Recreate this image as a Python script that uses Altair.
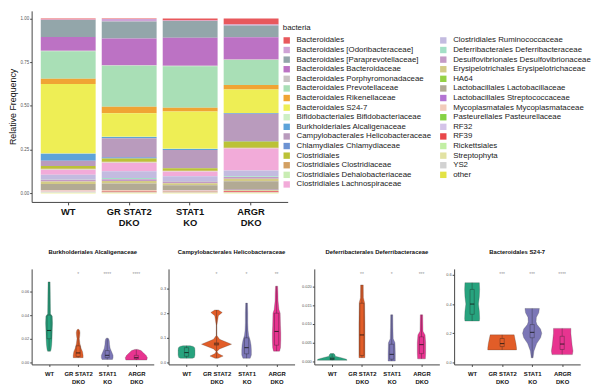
import altair as alt
import pandas as pd

GROUPS = ["WT", "GR STAT2 DKO", "STAT1 KO", "ARGR DKO"]
GROUP_COLORS = ["#1B9E77", "#E0541C", "#7570B3", "#E7298A"]

TAXA = [
    "Bacteroidales", "Bacteroidales [Odoribacteraceae]", "Bacteroidales [Paraprevotellaceae]",
    "Bacteroidales Bacteroidaceae", "Bacteroidales Porphyromonadaceae", "Bacteroidales Prevotellaceae",
    "Bacteroidales Rikenellaceae", "Bacteroidales S24-7", "Bifidobacteriales Bifidobacteriaceae",
    "Burkholderiales Alcaligenaceae", "Campylobacterales Helicobacteraceae", "Chlamydiales Chlamydiaceae",
    "Clostridiales", "Clostridiales Clostridiaceae", "Clostridiales Dehalobacteriaceae",
    "Clostridiales Lachnospiraceae", "Clostridiales Ruminococcaceae", "Deferribacterales Deferribacteraceae",
    "Desulfovibrionales Desulfovibrionaceae", "Erysipelotrichales Erysipelotrichaceae", "HA64",
    "Lactobacillales Lactobacillaceae", "Lactobacillales Streptococcaceae", "Mycoplasmatales Mycoplasmataceae",
    "Pasteurellales Pasteurellaceae", "RF32", "RF39", "Rickettsiales", "Streptophyta", "YS2", "other",
]
TAXA_COLORS = [
    "#E8585C", "#CFA3D6", "#93A6AA", "#BC72C4", "#C9C3C3", "#A9DFB6",
    "#F0A434", "#EEEE55", "#CDEFC4", "#5DA3D9", "#B99BBD", "#6C93D3",
    "#BBC236", "#D3A062", "#C9EDB3", "#F2ABD9", "#C3BBE0", "#A3E0C6",
    "#C49AC6", "#D3CB86", "#95D145", "#B2AA94", "#B474D3", "#F2CBBB",
    "#86D244", "#D4C3E8", "#E9474A", "#C2EFA4", "#E2E2A3", "#D2D2D2", "#E3E345",
]

WT_FREQ = [0.006, 0.003, 0.100, 0.080, 0.003, 0.160, 0.030, 0.405, 0.002, 0.040, 0.030, 0.000,
           0.017, 0.003, 0.002, 0.030, 0.028, 0.001, 0.010, 0.015, 0.000, 0.035, 0.001, 0.008,
           0.001, 0.002, 0.001, 0.001, 0.001, 0.002, 0.002]
GRSTAT2_FREQ = [0.003, 0.015, 0.100, 0.155, 0.003, 0.240, 0.038, 0.137, 0.001, 0.008, 0.110, 0.008,
                0.019, 0.003, 0.002, 0.050, 0.040, 0.007, 0.010, 0.015, 0.000, 0.037, 0.001, 0.005,
                0.001, 0.002, 0.005, 0.001, 0.001, 0.002, 0.002]
STAT1_FREQ = [0.013, 0.003, 0.098, 0.165, 0.003, 0.244, 0.022, 0.220, 0.001, 0.006, 0.105, 0.002,
              0.015, 0.002, 0.002, 0.028, 0.028, 0.003, 0.010, 0.012, 0.000, 0.030, 0.001, 0.005,
              0.001, 0.002, 0.003, 0.001, 0.001, 0.002, 0.002]
ARGR_FREQ = [0.036, 0.005, 0.070, 0.130, 0.003, 0.146, 0.026, 0.137, 0.001, 0.004, 0.160, 0.002,
             0.037, 0.003, 0.002, 0.128, 0.034, 0.004, 0.010, 0.015, 0.000, 0.050, 0.001, 0.005,
             0.001, 0.002, 0.006, 0.001, 0.001, 0.002, 0.002]

# Violin outlines: (value, relative half-width in group units) per group
BURK_PROFILES = [
    [(0.0094, 0.05), (0.011, 0.07), (0.015, 0.09), (0.019, 0.10), (0.0275, 0.11), (0.033, 0.12),
     (0.039, 0.11), (0.041, 0.05), (0.050, 0.045), (0.060, 0.04), (0.068, 0.035)],
    [(0.004, 0.17), (0.006, 0.17), (0.009, 0.15), (0.012, 0.10), (0.016, 0.06), (0.020, 0.04),
     (0.0225, 0.055), (0.025, 0.065), (0.027, 0.05), (0.028, 0.02)],
    [(0.0025, 0.18), (0.004, 0.20), (0.006, 0.20), (0.009, 0.15), (0.012, 0.10), (0.015, 0.08),
     (0.018, 0.07), (0.020, 0.05), (0.0205, 0.02)],
    [(0.002, 0.36), (0.004, 0.38), (0.006, 0.33), (0.008, 0.25), (0.010, 0.16), (0.011, 0.05)],
]
BURK_BOX = [(0.020, 0.027, 0.040, 0.0094, 0.068), (0.005, 0.008, 0.014, 0.004, 0.0275),
            (0.004, 0.006, 0.010, 0.0025, 0.0205), (0.003, 0.004, 0.006, 0.002, 0.011)]
BURK_STARS = ["", "*", "****", "****"]

CAMP_PROFILES = [
    [(0.017, 0.20), (0.020, 0.26), (0.030, 0.28), (0.050, 0.28), (0.060, 0.27), (0.065, 0.22), (0.068, 0.12)],
    [(0.017, 0.05), (0.026, 0.22), (0.036, 0.05), (0.045, 0.015), (0.055, 0.10), (0.074, 0.50),
     (0.094, 0.10), (0.110, 0.012), (0.150, 0.010), (0.190, 0.06), (0.203, 0.19), (0.213, 0.06)],
    [(0.017, 0.12), (0.030, 0.16), (0.050, 0.16), (0.070, 0.15), (0.090, 0.12), (0.110, 0.07),
     (0.130, 0.05), (0.160, 0.04), (0.200, 0.04), (0.241, 0.03)],
    [(0.046, 0.10), (0.060, 0.13), (0.090, 0.14), (0.120, 0.14), (0.150, 0.13), (0.200, 0.12),
     (0.215, 0.08), (0.250, 0.05), (0.280, 0.045), (0.310, 0.035)],
]
CAMP_BOX = [(0.025, 0.040, 0.060, 0.017, 0.068), (0.070, 0.075, 0.080, 0.017, 0.213),
            (0.035, 0.060, 0.100, 0.017, 0.241), (0.070, 0.126, 0.200, 0.046, 0.310)]
CAMP_STARS = ["", "*", "*", "**"]

DEFE_PROFILES = [
    [(0.0002, 0.50), (0.0005, 0.48), (0.0009, 0.30), (0.0013, 0.10), (0.0016, 0.10), (0.0020, 0.06)],
    [(0.0009, 0.10), (0.0018, 0.10), (0.0050, 0.10), (0.0100, 0.10), (0.0156, 0.09), (0.0170, 0.05), (0.0204, 0.045)],
    [(0.0000, 0.12), (0.0020, 0.12), (0.0049, 0.11), (0.0060, 0.05), (0.0090, 0.04), (0.0124, 0.035)],
    [(0.0006, 0.13), (0.0020, 0.14), (0.0050, 0.14), (0.0070, 0.12), (0.0080, 0.05), (0.0124, 0.04)],
]
DEFE_BOX = [(0.0004, 0.0006, 0.0010, 0.0002, 0.0020), (0.0015, 0.0070, 0.0155, 0.0009, 0.0204),
            (0.0005, 0.0018, 0.0045, 0.0000, 0.0124), (0.0020, 0.0044, 0.0065, 0.0006, 0.0124)]
DEFE_STARS = ["", "**", "*", "***"]

S247_PROFILES = [
    [(0.284, 0.24), (0.300, 0.25), (0.350, 0.24), (0.400, 0.21), (0.450, 0.24), (0.500, 0.25), (0.546, 0.24)],
    [(0.087, 0.48), (0.100, 0.48), (0.130, 0.46), (0.160, 0.43), (0.190, 0.40)],
    [(0.033, 0.03), (0.080, 0.06), (0.130, 0.15), (0.170, 0.28), (0.200, 0.32), (0.230, 0.28),
     (0.260, 0.16), (0.280, 0.13), (0.310, 0.14), (0.340, 0.22), (0.370, 0.24)],
    [(0.055, 0.34), (0.080, 0.36), (0.120, 0.33), (0.160, 0.31), (0.200, 0.29), (0.234, 0.29)],
]
S247_BOX = [(0.330, 0.400, 0.500, 0.284, 0.546), (0.110, 0.130, 0.165, 0.087, 0.190),
            (0.170, 0.207, 0.260, 0.033, 0.370), (0.090, 0.127, 0.180, 0.055, 0.234)]
S247_STARS = ["", "***", "***", "****"]

FONT = "Liberation Sans"
SPLIT_EXPR = ("indexof(datum.label,' ')<0 ? datum.label : "
              "[substring(datum.label,0,lastindexof(datum.label,' ')), "
              "substring(datum.label,lastindexof(datum.label,' ')+1)]")

# ---------- stacked bar ----------
rows = []
for g, freqs in zip(GROUPS, [WT_FREQ, GRSTAT2_FREQ, STAT1_FREQ, ARGR_FREQ]):
    for i, (t, v) in enumerate(zip(TAXA, freqs)):
        rows.append({"group": g, "taxon": t, "idx": i, "value": v})
bar_df = pd.DataFrame(rows)

bars = alt.Chart(bar_df).mark_bar().encode(
    x=alt.X("group:N", sort=GROUPS, title=None,
            scale=alt.Scale(paddingInner=0.1, paddingOuter=0.15),
            axis=alt.Axis(labelAngle=0, labelFontSize=9.5, labelFontWeight="bold", labelColor="#111",
                          labelExpr=SPLIT_EXPR, labelLineHeight=11, tickSize=3, tickColor="#444",
                          domainColor="#444", labelPadding=2)),
    y=alt.Y("value:Q", stack="normalize",
            scale=alt.Scale(domain=[-0.049, 1.043], nice=False, zero=False),
            axis=alt.Axis(values=[0, 0.25, 0.5, 0.75, 1.0], labelExpr="format(datum.value, '.2f')",
                          title="Relative Frequency",
                          titleFontSize=9, titleFontWeight="normal", titleColor="#111", labelFontSize=4.5,
                          labelColor="#555", tickSize=2, tickColor="#444", domainColor="#444",
                          labelPadding=1, titlePadding=3, grid=False)),
    color=alt.Color("taxon:N", scale=alt.Scale(domain=TAXA, range=TAXA_COLORS),
                    legend=alt.Legend(title="bacteria", orient="none", legendX=255, legendY=13,
                                      columns=2, symbolType="square", symbolSize=42, symbolStrokeWidth=0,
                                      labelFontSize=8, labelColor="#222", titleFontSize=8, labelOffset=6,
                                      titleFontWeight="normal", titleColor="#222", rowPadding=1.75,
                                      columnPadding=8, labelLimit=0, titlePadding=5, symbolLimit=0)),
    order=alt.Order("idx:Q", sort="descending"),
).properties(width=260, height=194)


# ---------- violin panels ----------
def violin_panel(title, profiles, boxes, stars, ydom, yvals, yfmt, width):
    prow = []
    for gi, prof in enumerate(profiles):
        for v, hw in prof:
            prow.append({"gi": gi, "group": GROUPS[gi], "v": v, "xl": gi - hw, "xr": gi + hw})
    pdf = pd.DataFrame(prow)
    brow = []
    for gi, (q1, med, q3, lo, hi) in enumerate(boxes):
        brow.append({"gi": gi, "bl": gi - 0.07, "br": gi + 0.07, "q1": q1, "med": med, "q3": q3,
                     "lo": lo, "hi": hi, "star": stars[gi], "sy": ydom[1] - (ydom[1] - ydom[0]) * 0.05})
    bdf = pd.DataFrame(brow)

    xs = alt.Scale(domain=[-0.6, 3.6], nice=False, zero=False)
    ys = alt.Scale(domain=ydom, nice=False, zero=False)
    xaxis = alt.Axis(values=[0, 1, 2, 3], title=None,
                     labelExpr="[['WT'],['GR STAT2','DKO'],['STAT1','KO'],['ARGR','DKO']][datum.value]",
                     labelFontSize=6, labelFontWeight="bold", labelColor="#111", labelLineHeight=8,
                     tickSize=2, tickColor="#444", domainColor="#444", grid=False, labelPadding=4)
    yaxis = alt.Axis(values=yvals, format=yfmt, title=None, labelFontSize=4, labelColor="#555", tickSize=2,
                     tickColor="#444", domainColor="#444", grid=False, labelPadding=1)

    area = alt.Chart(pdf).mark_area(orient="horizontal", stroke="#333", strokeWidth=0.4,
                                    strokeOpacity=0.6, fillOpacity=0.95).encode(
        y=alt.Y("v:Q", scale=ys, axis=yaxis),
        x=alt.X("xl:Q", scale=xs, axis=xaxis, stack=False),
        x2="xr:Q",
        color=alt.Color("group:N", scale=alt.Scale(domain=GROUPS, range=GROUP_COLORS), legend=None),
    )
    base = alt.Chart(bdf)
    whisk_lo = base.mark_rule(color="#222", strokeWidth=0.5, opacity=0.7).encode(
        x=alt.X("gi:Q", scale=xs, axis=xaxis), y=alt.Y("lo:Q", scale=ys, axis=yaxis), y2="q1:Q")
    whisk_hi = base.mark_rule(color="#222", strokeWidth=0.5, opacity=0.7).encode(
        x=alt.X("gi:Q", scale=xs, axis=xaxis), y=alt.Y("q3:Q", scale=ys, axis=yaxis), y2="hi:Q")
    box = base.mark_rect(fillOpacity=0, stroke="#222", strokeWidth=0.5, strokeOpacity=0.7).encode(
        x=alt.X("bl:Q", scale=xs, axis=xaxis), x2="br:Q",
        y=alt.Y("q1:Q", scale=ys, axis=yaxis), y2="q3:Q")
    med = base.mark_rule(color="#111", strokeWidth=0.8).encode(
        x=alt.X("bl:Q", scale=xs, axis=xaxis), x2="br:Q", y=alt.Y("med:Q", scale=ys, axis=yaxis))
    star = base.mark_text(fontSize=5, color="#999", font=FONT).encode(
        x=alt.X("gi:Q", scale=xs, axis=xaxis), y=alt.Y("sy:Q", scale=ys, axis=yaxis), text="star:N")
    return alt.layer(area, whisk_lo, whisk_hi, box, med, star).properties(
        width=width, height=97,
        title=alt.TitleParams(title, fontSize=6, fontWeight="bold", color="#111", anchor="middle", offset=14))


p1 = violin_panel("Burkholderiales Alcaligenaceae", BURK_PROFILES, BURK_BOX, BURK_STARS,
                  [-0.0017, 0.079], [0, 0.02, 0.04, 0.06, 0.08], ".2f", 124)
p2 = violin_panel("Campylobacterales Helicobacteraceae", CAMP_PROFILES, CAMP_BOX, CAMP_STARS,
                  [-0.008, 0.38], [0, 0.1, 0.2, 0.3], ".1f", 128)
p3 = violin_panel("Deferribacterales Deferribacteraceae", DEFE_PROFILES, DEFE_BOX, DEFE_STARS,
                  [-0.0009, 0.0247], [0, 0.005, 0.01, 0.015, 0.02], ".3f", 127)
p4 = violin_panel("Bacteroidales S24-7", S247_PROFILES, S247_BOX, S247_STARS,
                  [-0.012, 0.64], [0, 0.2, 0.4, 0.6], ".1f", 128)

bottom = alt.hconcat(p1, p2, p3, p4, spacing=6).resolve_scale(x="independent", y="independent")

chart = alt.vconcat(bars, bottom, spacing=22).resolve_scale(
    color="independent", x="independent", y="independent"
).configure(
    font=FONT, padding=0, background="white"
).configure_view(stroke=None)

chart.save("out.html", embed_options={"renderer": "svg", "actions": False})
